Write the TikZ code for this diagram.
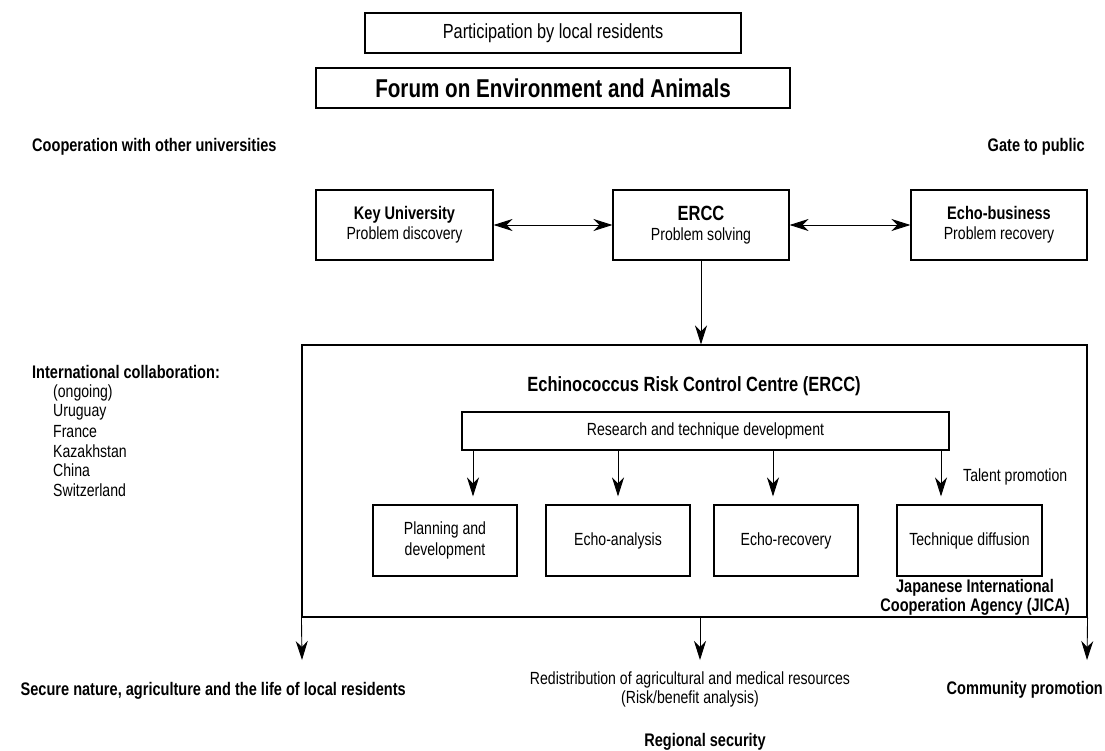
\documentclass[tikz,border=0pt]{standalone}
\usepackage{fontspec}
\setmainfont{Liberation Sans}[FakeStretch=0.8]
\usetikzlibrary{arrows.meta}
\begin{document}
\begin{tikzpicture}[x=1pt,y=-1pt,
  box/.style={draw, line width=1.1pt, inner sep=0pt, align=center},
  reg/.style={font=\fontsize{17.6}{20}\selectfont},
  bld/.style={font=\fontsize{18.2}{19.5}\selectfont\bfseries},
  arr/.style={line width=0.9pt, -{Stealth[length=19pt,width=12pt,inset=6pt]}},
  darr/.style={line width=0.9pt, {Stealth[length=19pt,width=12pt,inset=6pt]}-{Stealth[length=19pt,width=12pt,inset=6pt]}},
  lbl/.style={inner sep=0pt}
]
\useasboundingbox (0,0) rectangle (1105,751);
\fill[white] (0,0) rectangle (1105,751);

% top boxes
\node[box, minimum width=376, minimum height=40, font=\fontsize{20.4}{22}\selectfont] (part) at (553,33) {Participation by local residents};
\node[box, minimum width=474, minimum height=40, font=\fontsize{25.8}{28}\selectfont\bfseries] (forum) at (553,88) {Forum on Environment and Animals};

\node[lbl, bld, anchor=west] (coop) at (32,147) {Cooperation with other universities};
\node[lbl, bld, anchor=east] (gate) at (1085,147) {Gate to public};

% middle row
\node[box, minimum width=177, minimum height=70, reg] (key) at (404.5,225) {{\bfseries\fontsize{18.2}{19}\selectfont Key University}\\Problem discovery};
\node[box, minimum width=176, minimum height=70, reg] (ercc) at (701,225) {{\bfseries\fontsize{20.6}{19}\selectfont ERCC}\\Problem solving};
\node[box, minimum width=176, minimum height=70, reg] (echo) at (999,225) {{\bfseries\fontsize{18.2}{19}\selectfont Echo-business}\\Problem recovery};

\draw[darr] (key.east) -- (ercc.west);
\draw[darr] (ercc.east) -- (echo.west);

% big box
\node[draw, line width=1.1pt, minimum width=785, minimum height=272, inner sep=0pt] (big) at (694.5,481) {};
\draw[arr] (ercc.south) -- (ercc.south |- big.north);

\node[lbl, font=\fontsize{20.6}{22}\selectfont\bfseries] (title) at (694,386) {Echinococcus Risk Control Centre (ERCC)};
\node[box, minimum width=487, minimum height=38, reg] (rtd) at (705.5,431) {Research and technique development};

\node[box, minimum width=144, minimum height=71, reg, font=\fontsize{17.6}{21}\selectfont] (pd) at (445,540.5) {Planning and\\development};
\node[box, minimum width=144, minimum height=71, reg] (ea) at (618,540.5) {Echo-analysis};
\node[box, minimum width=144, minimum height=71, reg] (er) at (786,540.5) {Echo-recovery};
\node[box, minimum width=145, minimum height=71, reg] (td) at (969.5,540.5) {Technique diffusion};

\coordinate (a1) at (473,0);
\coordinate (a2) at (618,0);
\coordinate (a3) at (773,0);
\coordinate (a4) at (941,0);
\draw[arr, shorten >=8pt] (rtd.south -| a1) -- (pd.north -| a1);
\draw[arr, shorten >=8pt] (rtd.south -| a2) -- (ea.north -| a2);
\draw[arr, shorten >=8pt] (rtd.south -| a3) -- (er.north -| a3);
\draw[arr, shorten >=8pt] (rtd.south -| a4) -- (td.north -| a4);

\node[lbl, reg, anchor=west] (talent) at (963,477) {Talent promotion};
\node[lbl, bld, align=center] (jica) at (975,597.5) {Japanese International\\Cooperation Agency (JICA)};

% bottom arrows
\coordinate (b1) at (302,660);
\coordinate (b2) at (700,660);
\coordinate (b3) at (1087,660);
\draw[arr] (big.south west) -- (b1);
\draw[arr] (big.south -| b2) -- (b2);
\draw[arr] (big.south east) -- (b3);

\node[lbl, bld, anchor=east] (secure) at (406,691) {Secure nature, agriculture and the life of local residents};
\node[lbl, reg, align=center, font=\fontsize{17.6}{19}\selectfont] (redis) at (690,689.5) {Redistribution of agricultural and medical resources\\(Risk/benefit analysis)};
\node[lbl, bld, anchor=east] (comm) at (1103,690) {Community promotion};
\node[lbl, bld] (regsec) at (705,742) {Regional security};

% left column
\node[lbl, bld, anchor=west] (intl) at (32,372) {International collaboration:};
\node[lbl, reg, anchor=west] (c0) at (53,392.5) {(ongoing)};
\node[lbl, reg, anchor=west] (c1) at (53,412) {Uruguay};
\node[lbl, reg, anchor=west] (c2) at (53,431.5) {France};
\node[lbl, reg, anchor=west] (c3) at (53,451) {Kazakhstan};
\node[lbl, reg, anchor=west] (c4) at (53,470.5) {China};
\node[lbl, reg, anchor=west] (c5) at (53,490) {Switzerland};
\end{tikzpicture}
\end{document}
